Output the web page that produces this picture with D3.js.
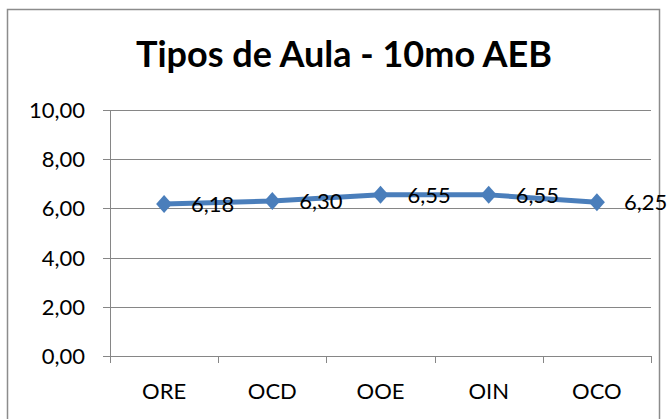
<!DOCTYPE html>
<meta charset="utf-8">
<title>Tipos de Aula - 10mo AEB</title>
<style>
  body { margin: 0; background: #fff; }
  svg { display: block; font-family: Lato, "Open Sans", sans-serif; }
  .grid line { stroke: #868686; stroke-width: 1; }
</style>
<body>
<svg width="667" height="419"></svg>
<script src="https://d3js.org/d3.v7.min.js"></script>
<script>
// data
var categories = ["ORE", "OCD", "OOE", "OIN", "OCO"];
var values = [6.18, 6.30, 6.55, 6.55, 6.25];
var yTicks = [0, 2, 4, 6, 8, 10];

var svg = d3.select("svg"),
    margin = {top: 110, right: 16, bottom: 63, left: 110},
    width = 667 - margin.left - margin.right,
    height = 419 - margin.top - margin.bottom;

var fmt = function(v) { return d3.format(".2f")(v).replace(".", ","); };

// outer chart border
svg.append("rect")
    .attr("x", 7.5).attr("y", 9.5)
    .attr("width", 652).attr("height", 430)
    .attr("fill", "none")
    .attr("stroke", "#8c8c8c")
    .attr("stroke-width", 1.5);

svg.append("text")
    .attr("x", 344).attr("y", 67)
    .attr("text-anchor", "middle")
    .attr("font-size", 36)
    .attr("font-weight", "bold")
    .text("Tipos de Aula - 10mo AEB");

var g = svg.append("g").attr("transform", "translate(" + margin.left + "," + margin.top + ")");

var x = d3.scaleBand().domain(categories).range([0, width]);
var y = d3.scaleLinear().domain([0, 10]).range([height, 0]);

// gridlines + y ticks
var grid = g.append("g").attr("class", "grid");
grid.selectAll("line")
    .data(yTicks)
  .enter().append("line")
    .attr("x1", -7).attr("x2", width)
    .attr("y1", function(d) { return Math.round(y(d)) + 0.5; })
    .attr("y2", function(d) { return Math.round(y(d)) + 0.5; });

grid.selectAll("text")
    .data(yTicks)
  .enter().append("text")
    .attr("x", -25)
    .attr("y", function(d) { return y(d); })
    .attr("dy", "0.36em")
    .attr("text-anchor", "end")
    .attr("font-size", 22)
    .text(fmt);

// y axis line
g.append("line")
    .attr("x1", 0.5).attr("x2", 0.5)
    .attr("y1", 0).attr("y2", height)
    .attr("stroke", "#868686");

// x axis ticks between categories
var xTickPos = d3.range(categories.length + 1).map(function(i) { return i * x.step(); });
g.append("g").selectAll("line")
    .data(xTickPos)
  .enter().append("line")
    .attr("x1", function(d) { return Math.round(d) + 0.5; })
    .attr("x2", function(d) { return Math.round(d) + 0.5; })
    .attr("y1", height).attr("y2", height + 7)
    .attr("stroke", "#868686");

g.append("g").selectAll("text")
    .data(categories)
  .enter().append("text")
    .attr("x", function(d) { return x(d) + x.bandwidth() / 2; })
    .attr("y", height + 35)
    .attr("dy", "0.36em")
    .attr("text-anchor", "middle")
    .attr("font-size", 22)
    .text(function(d) { return d; });

// line series
var cx = function(d, i) { return x(categories[i]) + x.bandwidth() / 2; };
var line = d3.line()
    .x(cx)
    .y(function(d) { return y(d); });

g.append("path")
    .datum(values)
    .attr("fill", "none")
    .attr("stroke", "#4a7ebb")
    .attr("stroke-width", 5)
    .attr("stroke-linejoin", "round")
    .attr("d", line);

g.selectAll(".marker")
    .data(values)
  .enter().append("path")
    .attr("class", "marker")
    .attr("transform", function(d, i) { return "translate(" + cx(d, i) + "," + y(d) + ")"; })
    .attr("d", "M0,-9L8,0L0,9L-8,0Z")
    .attr("fill", "#4a7ebb");

g.selectAll(".lbl")
    .data(values)
  .enter().append("text")
    .attr("class", "lbl")
    .attr("x", function(d, i) { return cx(d, i) + 27; })
    .attr("y", function(d) { return y(d); })
    .attr("dy", "0.36em")
    .attr("font-size", 22)
    .text(fmt);
</script>
</body>
